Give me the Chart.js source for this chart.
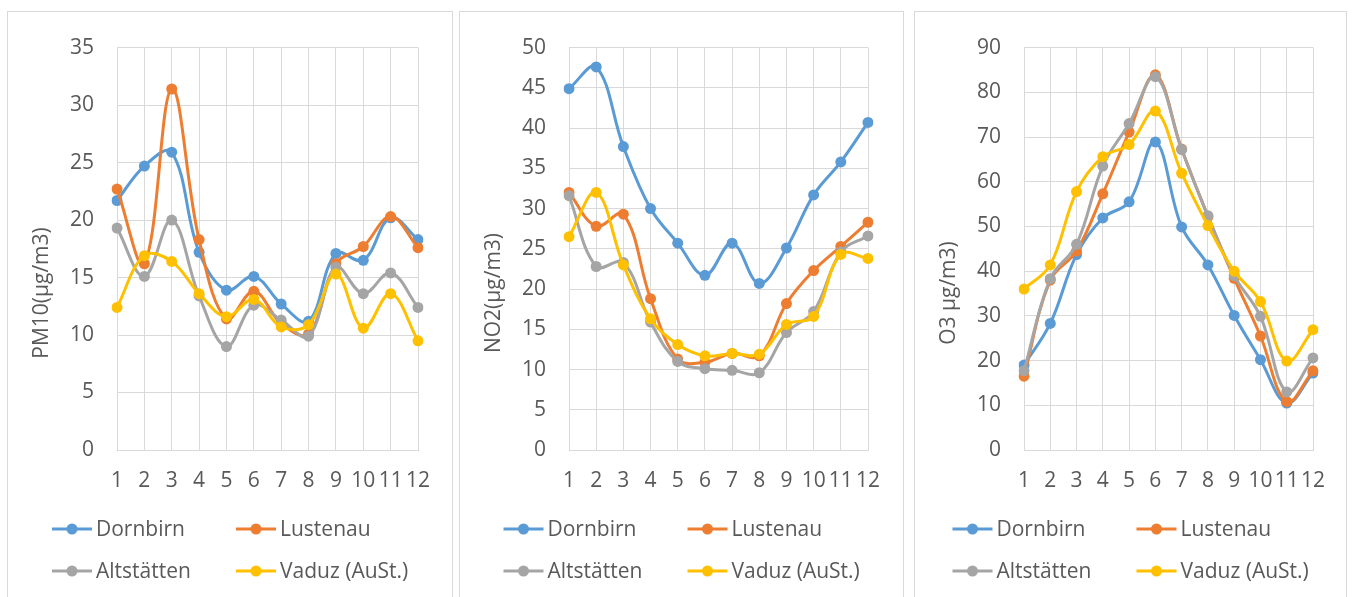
<!DOCTYPE html>
<html>
<head>
<meta charset="utf-8">
<script src="https://cdn.jsdelivr.net/npm/chart.js@4.4.1/dist/chart.umd.min.js"></script>
<style>
  html, body { margin: 0; padding: 0; background: #ffffff; overflow: hidden; }
  body { width: 1354px; height: 597px; position: relative; }
  .panel { position: absolute; border: 1px solid #d9d9d9; background: #fff; }
  .panel canvas { position: absolute; left: 0; top: 0; }
</style>
</head>
<body>
<div class="panel" id="p1" style="left:7px; top:11px; width:444px; height:600px;"><canvas id="c1" width="444" height="586"></canvas></div>
<div class="panel" id="p2" style="left:459px; top:11px; width:443px; height:600px;"><canvas id="c2" width="443" height="586"></canvas></div>
<div class="panel" id="p3" style="left:914px; top:11px; width:431px; height:600px;"><canvas id="c3" width="431" height="586"></canvas></div>
<script>
// Months (categories)
const months = ['1', '2', '3', '4', '5', '6', '7', '8', '9', '10', '11', '12'];

// Station names
const stations = ['Dornbirn', 'Lustenau', 'Altstätten', 'Vaduz (AuSt.)'];
const stationColors = ['#5B9BD5', '#ED7D31', '#A5A5A5', '#FFC000'];

// PM10 monthly means (µg/m3)
const pm10Dornbirn    = [21.7, 24.7, 25.9, 17.2, 13.9, 15.1, 12.7, 11.2, 17.1, 16.5, 20.2, 18.3];
const pm10Lustenau    = [22.7, 16.2, 31.4, 18.3, 11.4, 13.8, 11.0, 10.1, 16.2, 17.7, 20.3, 17.6];
const pm10Altstaetten = [19.3, 15.1, 20.0, 13.4, 9.0, 12.6, 11.3, 9.9, 15.9, 13.6, 15.4, 12.4];
const pm10Vaduz       = [12.4, 16.9, 16.4, 13.6, 11.6, 13.1, 10.7, 10.9, 15.3, 10.6, 13.6, 9.5];

// NO2 monthly means (µg/m3)
const no2Dornbirn    = [44.9, 47.6, 37.7, 30.0, 25.7, 21.7, 25.7, 20.7, 25.1, 31.7, 35.8, 40.7];
const no2Lustenau    = [32.0, 27.8, 29.3, 18.8, 11.3, 10.9, 12.0, 11.7, 18.2, 22.3, 25.3, 28.3];
const no2Altstaetten = [31.6, 22.8, 23.3, 15.9, 11.0, 10.1, 9.9, 9.6, 14.6, 17.2, 24.6, 26.6];
const no2Vaduz       = [26.5, 32.0, 23.0, 16.3, 13.1, 11.7, 12.0, 11.9, 15.6, 16.6, 24.3, 23.8];

// O3 monthly means (µg/m3)
const o3Dornbirn    = [19.0, 28.3, 43.7, 51.9, 55.5, 68.9, 49.9, 41.4, 30.1, 20.2, 10.5, 17.2];
const o3Lustenau    = [16.5, 38.0, 44.5, 57.3, 71.1, 83.9, 67.3, 52.2, 38.4, 25.5, 10.8, 17.7];
const o3Altstaetten = [17.7, 38.3, 46.0, 63.5, 73.0, 83.5, 67.2, 52.4, 39.0, 29.9, 13.0, 20.6];
const o3Vaduz       = [36.0, 41.4, 57.8, 65.6, 68.3, 75.8, 61.9, 50.2, 40.0, 33.2, 19.9, 26.9];

// Axis titles and value ranges
const axisTitles = ['PM10(µg/m3)', 'NO2(µg/m3)', 'O3 µg/m3)'];
const yMax = [35, 50, 90];
const yStep = [5, 5, 10];

const FONT = '"Open Sans", "Noto Sans", sans-serif';
const FONT_SIZE = 21;
const TEXT = '#595959';
const GRID = '#d9d9d9';

// Rotated value-axis title
const axisTitlePlugin = {
  id: 'axisTitle',
  afterDraw(chart, args, opts) {
    const ctx = chart.ctx;
    ctx.save();
    ctx.translate(chart.chartArea.left - 75, opts.centerY);
    ctx.rotate(-Math.PI / 2);
    ctx.fillStyle = TEXT;
    ctx.font = FONT_SIZE + 'px ' + FONT;
    ctx.textAlign = 'center';
    ctx.textBaseline = 'middle';
    ctx.fillText(opts.text, 0, 0);
    ctx.restore();
  }
};

// Two-column legend with line + marker symbols
const lineLegendPlugin = {
  id: 'lineLegend',
  afterDraw(chart) {
    const ctx = chart.ctx;
    const cx = chart.width / 2;
    const cols = [cx - 178, cx + 6];
    const rows = [517, 559];
    ctx.save();
    ctx.font = FONT_SIZE + 'px ' + FONT;
    ctx.textBaseline = 'middle';
    ctx.textAlign = 'left';
    chart.data.datasets.forEach((ds, i) => {
      const x = cols[i % 2];
      const y = rows[Math.floor(i / 2)];
      ctx.strokeStyle = ds.borderColor;
      ctx.lineWidth = 3;
      ctx.beginPath();
      ctx.moveTo(x, y);
      ctx.lineTo(x + 40, y);
      ctx.stroke();
      ctx.fillStyle = ds.borderColor;
      ctx.beginPath();
      ctx.arc(x + 20, y, 5.5, 0, Math.PI * 2);
      ctx.fill();
      ctx.fillStyle = TEXT;
      ctx.fillText(ds.label, x + 44, y + 1);
    });
    ctx.restore();
  }
};

function makeChart(canvasId, seriesList, idx, topPad, rightPad) {
  const datasets = seriesList.map((values, i) => ({
    label: stations[i],
    data: values,
    borderColor: stationColors[i],
    backgroundColor: stationColors[i],
    pointBackgroundColor: stationColors[i],
    pointBorderColor: stationColors[i],
    pointBorderWidth: 0,
    pointRadius: 5.5,
    borderWidth: 3,
    tension: 0.38,
    fill: false,
    order: seriesList.length - 1 - i
  }));
  return new Chart(document.getElementById(canvasId), {
    type: 'line',
    data: { labels: months, datasets },
    options: {
      responsive: false,
      animation: false,
      devicePixelRatio: 1,
      layout: { padding: { left: 49, top: topPad, right: rightPad, bottom: 88 } },
      plugins: {
        legend: { display: false },
        tooltip: { enabled: false },
        axisTitle: { text: axisTitles[idx], centerY: 281 }
      },
      scales: {
        x: {
          type: 'category',
          offset: false,
          grid: { color: GRID, lineWidth: 1, drawTicks: false },
          border: { color: GRID, width: 1 },
          ticks: {
            color: TEXT,
            font: { family: FONT, size: FONT_SIZE },
            padding: 18,
            autoSkip: false,
            maxRotation: 0,
            minRotation: 0
          },
          afterFit(scale) { scale.height = 60; }
        },
        y: {
          min: 0,
          max: yMax[idx],
          grid: { color: GRID, lineWidth: 1, drawTicks: false },
          border: { display: false },
          ticks: {
            stepSize: yStep[idx],
            color: TEXT,
            font: { family: FONT, size: FONT_SIZE },
            padding: 23
          },
          afterFit(scale) { scale.width = 60; }
        }
      }
    },
    plugins: [axisTitlePlugin, lineLegendPlugin]
  });
}

makeChart('c1', [pm10Dornbirn, pm10Lustenau, pm10Altstaetten, pm10Vaduz], 0, 25, 34);
makeChart('c2', [no2Dornbirn, no2Lustenau, no2Altstaetten, no2Vaduz], 1, 25, 35);
makeChart('c3', [o3Dornbirn, o3Lustenau, o3Altstaetten, o3Vaduz], 2, 23, 33);
</script>
</body>
</html>
